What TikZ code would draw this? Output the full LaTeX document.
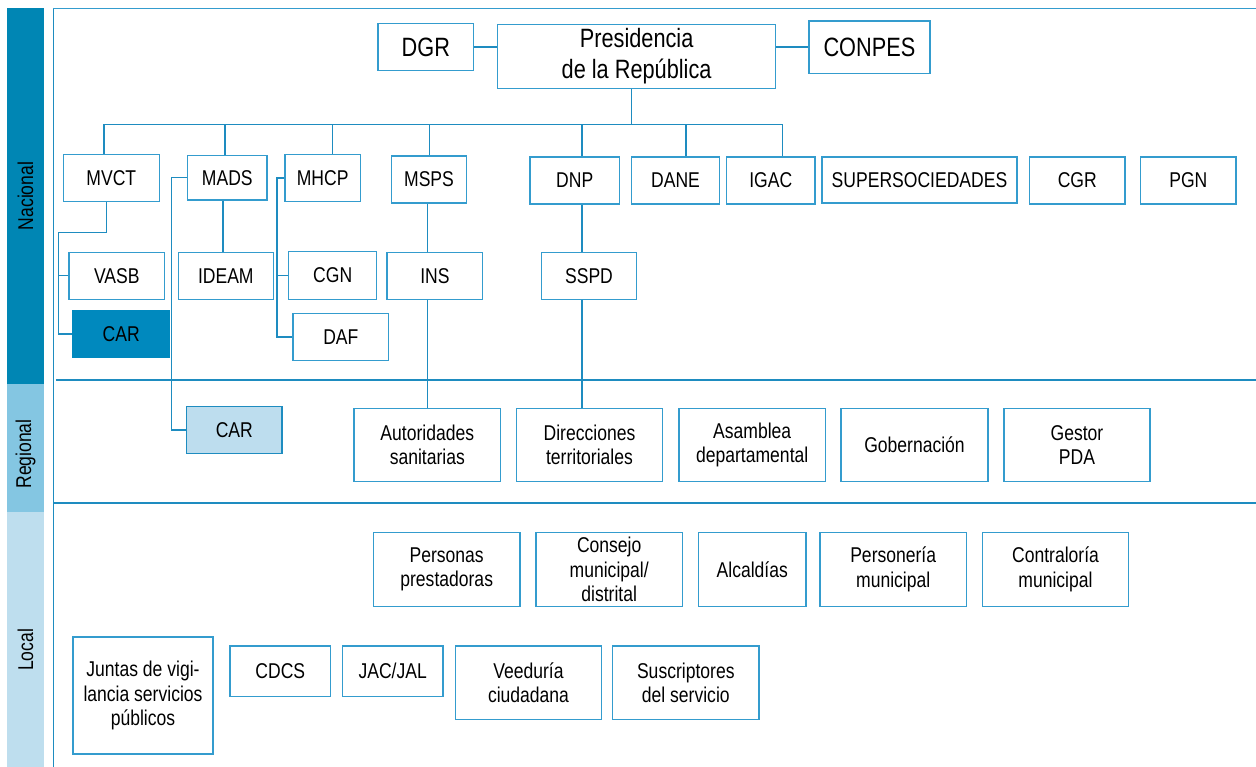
\documentclass[tikz,border=0pt]{standalone}
\usepackage{fontspec}
\setmainfont{Liberation Sans}[FakeStretch=0.82]
\usepackage{tikz}
\usetikzlibrary{calc}
\definecolor{bandnac}{RGB}{0,134,180}
\definecolor{bandreg}{RGB}{132,198,226}
\definecolor{bandloc}{RGB}{190,222,238}
\definecolor{edgeblue}{RGB}{30,140,192}
\definecolor{boxblue}{RGB}{52,156,206}
\definecolor{carfill}{RGB}{0,137,190}
\definecolor{carlight}{RGB}{189,221,238}
\tikzset{
  ent/.style={draw=boxblue, line width=1.4pt, fill=white, inner sep=0pt, align=center,
    font=\fontsize{21.4}{24.5}\selectfont, text=black},
  entbig/.style={ent, font=\fontsize{26.5}{31}\selectfont},
  sz/.style 2 args={minimum width=#1pt, minimum height=#2pt},
  link/.style={draw=edgeblue, line width=1.4pt},
  bandlabel/.style={rotate=90, inner sep=0pt, font=\fontsize{21.4}{24.5}\selectfont, text=black},
}
\begin{document}
\begin{tikzpicture}[x=1pt, y=-1pt, line join=miter]
    \useasboundingbox (0,0) rectangle (1256,767);
    % level bands
    \fill[bandnac] (7,8) rectangle (44,384);
    \fill[bandreg] (7,384) rectangle (44,512);
    \fill[bandloc] (7,512) rectangle (44,767);
    \node[bandlabel] (lnac) at (25.5,196) {Nacional};
    \node[bandlabel] (lreg) at (25.5,454) {Regional};
    \node[bandlabel] (lloc) at (25.5,650) {Local};
    % frame
    \draw[link] (53.3,8) -- (53.3,767);
    \draw[link, draw=boxblue] (53.3,8.7) -- (1256,8.7);
    \draw[link] (56,380) -- (1256,380);
    \draw[link] (53.3,503) -- (1256,503);
    % top
    \node[entbig, sz={95.6}{47.4}] (dgr) at (425.8,47) {DGR};
    \node[entbig, sz={277.9}{64}] (pres) at (636.6,56.3) {Presidencia\\de la República};
    \node[entbig, sz={120.8}{52.3}] (conpes) at (869.4,47.2) {CONPES};
    % nacional
    \node[ent, sz={96}{47.4}] (mvct) at (111.3,178) {MVCT};
    \node[ent, sz={79.3}{44.7}] (mads) at (227.3,177.7) {MADS};
    \node[ent, sz={75.3}{47.4}] (mhcp) at (322.7,178) {MHCP};
    \node[ent, sz={75.4}{47}] (msps) at (429,179.5) {MSPS};
    \node[ent, sz={89.4}{47}] (dnp) at (574.7,180.5) {DNP};
    \node[ent, sz={88.4}{47}] (dane) at (675.5,180.5) {DANE};
    \node[ent, sz={88.4}{47}] (igac) at (770.8,180.5) {IGAC};
    \node[ent, sz={195}{46}] (super) at (919.5,180) {SUPERSOCIEDADES};
    \node[ent, sz={95.3}{47}] (cgr) at (1077.3,180.5) {CGR};
    \node[ent, sz={95.7}{47}] (pgn) at (1188.3,180.5) {PGN};
    \node[ent, sz={95.7}{47}] (vasb) at (116.8,275.8) {VASB};
    \node[ent, sz={95}{47}] (ideam) at (225.8,275.8) {IDEAM};
    \node[ent, sz={88}{47.6}] (cgn) at (332.7,275.5) {CGN};
    \node[ent, sz={95.7}{47}] (ins) at (434.9,275.8) {INS};
    \node[ent, sz={95.4}{47}] (sspd) at (589,275.8) {SSPD};
    \node[ent, sz={95.7}{47}] (daf) at (340.8,337.2) {DAF};
    \node[ent, sz={96.3}{47.4}, fill=carfill, draw=carfill] (carn) at (121.2,334) {CAR};
    % regional
    \node[ent, sz={95.3}{46.6}, fill=carlight, draw=edgeblue] (carr) at (234.3,430) {CAR};
    \node[ent, sz={146.7}{73}] (aut) at (427.3,444.8) {Autoridades\\sanitarias};
    \node[ent, sz={146.4}{73}] (dir) at (589.5,444.8) {Direcciones\\territoriales};
    \node[ent, sz={146.3}{73}] (asam) at (752.2,444.8) {Asamblea\\departamental};
    \node[ent, sz={147}{73}] (gob) at (914.5,444.8) {Gobernación};
    \node[ent, sz={146}{73}] (gest) at (1077,444.8) {Gestor\\PDA};
    % local
    \node[ent, sz={146.7}{73.6}] (pers) at (446.7,569.5) {Personas\\prestadoras};
    \node[ent, sz={146.3}{73.6}] (cons) at (609.2,569.5) {Consejo\\municipal/\\distrital};
    \node[ent, sz={107.3}{73.6}] (alc) at (752.3,569.5) {Alcaldías};
    \node[ent, sz={146.3}{73.6}] (pmun) at (893.2,569.5) {Personería\\municipal};
    \node[ent, sz={146.4}{73.6}] (cmun) at (1055.5,569.5) {Contraloría\\municipal};
    \node[ent, sz={140}{117}] (jun) at (143,695.5) {Juntas de vigi-\\lancia servicios\\públicos};
    \node[ent, sz={100.7}{50.7}] (cdcs) at (280.3,671.3) {CDCS};
    \node[ent, sz={100.7}{50.7}] (jac) at (392.7,671.3) {JAC/JAL};
    \node[ent, sz={146.4}{73.7}] (vee) at (528.5,682.8) {Veeduría\\ciudadana};
    \node[ent, sz={146.3}{73.7}] (sus) at (685.8,682.8) {Suscriptores\\del servicio};
    % links
    \draw[link] (dgr.east) -- (dgr.east -| pres.west);
    \draw[link] (pres.east |- conpes.west) -- (conpes.west);
    \coordinate (bus) at (631.3,124.7);
    \draw[link] ([xshift=-5.3pt]pres.south) -- (bus);
    \foreach \n/\dx in {mvct/-7.3, mads/-2.3, mhcp/9.6, msps/0.6, dnp/7.3, dane/10.5, igac/11.7}
        \draw[link] ([xshift=\dx pt]\n.north) |- (bus);
    \coordinate (mvctrail) at (58.5,232.3);
    \draw[link] ([xshift=-4.6pt]mvct.south) |- (mvctrail) |- (carn.west);
    \draw[link] (mvctrail |- vasb.west) -- (vasb.west);
    \draw[link] (mads.west) -- ++(-15.7,0) |- (carr.west);
    \draw[link] ([xshift=-4.3pt]mads.south) -- ([xshift=-4.3pt]mads.south |- ideam.north);
    \draw[link] (mhcp.west) -- ++(-7.3,0) |- (daf.west);
    \draw[link] (cgn.west) -- ++(-11,0);
    \draw[link] ([xshift=-1.7pt]msps.south) -- ([xshift=-1.7pt]msps.south |- ins.north);
    \draw[link] ([xshift=-1.7pt]msps.south |- ins.south) -- ([xshift=-1.7pt]msps.south |- aut.north);
    \draw[link] ([xshift=7.3pt]dnp.south) -- ([xshift=7.3pt]dnp.south |- sspd.north);
    \draw[link] ([xshift=7.3pt]dnp.south |- sspd.south) -- ([xshift=7.3pt]dnp.south |- dir.north);
\end{tikzpicture}
\end{document}
